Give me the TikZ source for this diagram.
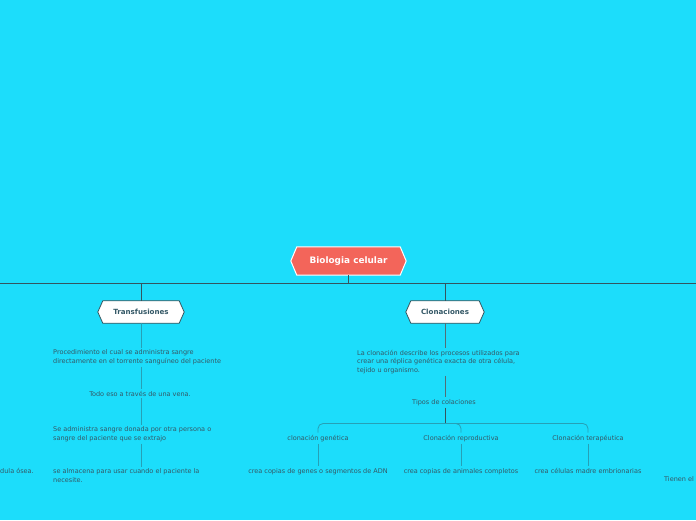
\documentclass[tikz,border=0pt]{standalone}
\usepackage{fontspec}
\setmainfont{DejaVu Sans}
\usetikzlibrary{backgrounds}
\definecolor{bgc}{RGB}{28,221,251}
\definecolor{rootc}{RGB}{243,101,90}
\definecolor{darkl}{RGB}{52,84,94}
\definecolor{thinl}{RGB}{38,160,182}
\definecolor{txtc}{RGB}{52,88,102}
\tikzset{
  txt/.style={font=\fontsize{6.5}{8.4}\selectfont, text=txtc, inner xsep=0pt, inner ysep=2pt, align=left},
  ctxt/.style={txt, align=center},
  hexbox/.style={inner sep=0pt, minimum height=22pt, font=\fontsize{7.1}{8}\bfseries\selectfont, text=txtc},
  rootbox/.style={inner sep=0pt, minimum height=28pt, minimum width=103pt, font=\fontsize{8.9}{10}\bfseries\selectfont, text=white},
  dline/.style={draw=darkl, line width=1pt},
  mline/.style={draw=darkl!85, line width=0.8pt},
  tline/.style={draw=thinl, line width=0.8pt},
}
\begin{document}
\begin{tikzpicture}[x=1pt,y=-1pt]
\useasboundingbox (0,0) rectangle (696,520);
% root and main nodes
\node[rootbox] (root) at (348.5,261) {Biologia celular};
\node[hexbox, minimum width=76pt] (tra) at (141,312) {Transfusiones};
\node[hexbox, minimum width=68pt] (clo) at (445,312) {Clonaciones};
\begin{scope}[on background layer]
\fill[bgc] (0,0) rectangle (696,520);
\filldraw[fill=rootc, draw=white, line width=1pt] (root.north west) -- (root.north east) -- ([xshift=6pt]root.east) -- (root.south east) -- (root.south west) -- ([xshift=-6pt]root.west) -- cycle;
\filldraw[fill=white, draw=darkl, line width=0.8pt] (tra.north west) -- (tra.north east) -- ([xshift=5pt]tra.east) -- (tra.south east) -- (tra.south west) -- ([xshift=-5pt]tra.west) -- cycle;
\filldraw[fill=white, draw=darkl, line width=0.8pt] (clo.north west) -- (clo.north east) -- ([xshift=5pt]clo.east) -- (clo.south east) -- (clo.south west) -- ([xshift=-5pt]clo.west) -- cycle;
\end{scope}
\coordinate (hl) at (0,283);
\coordinate (hr) at (696,283);
\draw[dline] (hl) -- (hr);
\draw[dline] (root.south) -- (root.south |- hl);
\draw[dline] (tra.north |- hl) -- (tra.north);
\draw[dline] (clo.north |- hl) -- (clo.north);

% Transfusiones branch
\node[txt, anchor=north west] (t1) at (53,347.5) {Procedimiento el cual se administra sangre\\directamente en el torrente sanguíneo del paciente};
\node[ctxt, anchor=base] (t2) at (140,396) {Todo eso a través de una vena.};
\node[txt, anchor=north west] (t3) at (53,424.5) {Se administra sangre donada por otra persona o\\sangre del paciente que se extrajo};
\node[txt, anchor=north west] (t4) at (53,466.5) {se almacena para usar cuando el paciente la\\necesite.};
\node[txt, anchor=base west] (t5) at (0,473) {dula ósea.};
\draw[tline] (tra.south) -- (tra.south |- t1.north);
\draw[tline] (tra.south |- t1.south) -- (tra.south |- t2.north);
\draw[tline] (tra.south |- t2.south) -- (tra.south |- t3.north);
\draw[tline] (tra.south |- t3.south) -- (tra.south |- t4.north);

% Clonaciones branch
\node[txt, anchor=north west] (c1) at (357,348) {La clonación describe los procesos utilizados para\\crear una réplica genética exacta de otra célula,\\tejido u organismo.};
\node[ctxt, anchor=base] (tip) at (444,404) {Tipos de colaciones};
\draw[mline] (clo.south) -- (clo.south |- c1.north);
\draw[mline] (clo.south |- c1.south) -- (clo.south |- tip.north);
\node[ctxt, anchor=base] (cg) at (318,440) {clonación genética};
\node[ctxt, anchor=base] (cr) at (461,440) {Clonación reproductiva};
\node[ctxt, anchor=base] (ct) at (588,440) {Clonación terapéutica};
\coordinate (j) at (445,423.5);
\draw[dline] (tip.south -| j) -- (j);
\draw[tline, rounded corners=5pt] (j) -| (cg.north);
\draw[tline, rounded corners=5pt] (j) -| (cr.north);
\draw[tline, rounded corners=5pt] (j) -| (ct.north);
\node[ctxt, anchor=base] (g1) at (318,473) {crea copias de genes o segmentos de ADN};
\node[ctxt, anchor=base] (r1) at (461,473) {crea copias de animales completos};
\node[ctxt, anchor=base] (e1) at (588,473) {crea células madre embrionarias};
\node[txt, anchor=base west] (tn) at (664,481) {Tienen el};
\draw[tline] (cg.south) -- (g1.north);
\draw[tline] (cr.south) -- (r1.north);
\draw[tline] (ct.south) -- (e1.north);
\end{tikzpicture}
\end{document}
